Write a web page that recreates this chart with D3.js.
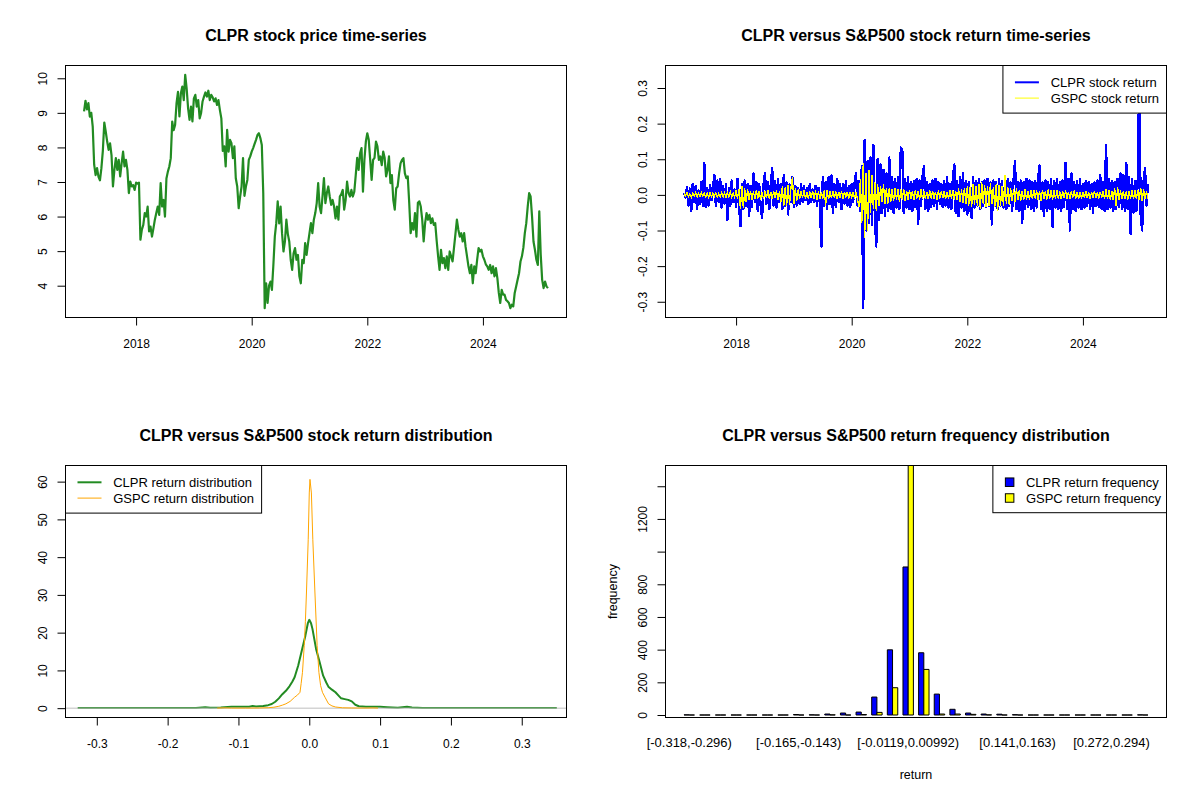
<!DOCTYPE html>
<html>
<head>
<meta charset="utf-8">
<script src="https://cdn.jsdelivr.net/npm/d3@7"></script>
<style>
  body { margin: 0; background: #fff; }
  svg { display: block; }
</style>
</head>
<body>
<div class="container"></div>
<script>
// ---- data ----

// CLPR price, one reading every 1/40 of a year starting early Feb 2017
const priceStart = 2017.1;
const priceStep = 0.025;
const clprPrice = [
  9.04, 9.35, 9.1, 9.28, 8.89, 9.0, 8.6, 7.5, 7.2, 7.4,
  7.15, 7.05, 7.4, 7.9, 8.72, 8.46, 8.17, 7.93, 8.12, 7.78,
  6.87, 7.35, 7.69, 7.35, 7.64, 7.16, 7.54, 7.88, 7.45, 7.64,
  7.35, 6.68, 7.01, 6.87, 6.91, 6.77, 6.98, 6.95, 6.98, 5.33,
  5.62, 5.76, 6.10, 6.0, 6.29, 5.57, 5.71, 5.42, 5.66, 5.91,
  6.1, 6.29, 6.05, 6.97, 6.29, 6.48, 6.0, 7.1, 7.3, 7.45,
  7.69, 8.75, 8.5, 8.65, 9.28, 9.61, 8.9, 9.57, 9.76, 9.37,
  10.1, 9.7, 9.13, 8.8, 9.18, 8.75, 9.42, 9.52, 9.18, 9.37,
  8.84, 9.0, 9.33, 9.47, 9.59, 9.47, 9.64, 9.37, 9.52, 9.45,
  9.33, 9.42, 9.23, 9.37, 9.08, 8.84, 7.9, 8.03, 7.45, 8.51,
  7.88, 8.22, 8.12, 7.69, 8.03, 7.11, 6.87, 6.24, 6.58, 6.87,
  7.69, 6.6, 6.87, 7.06, 7.64, 7.74, 7.88, 7.98, 8.1, 8.22,
  8.36, 8.41, 8.27, 8.07, 6.68, 3.35, 4.07, 3.5, 4.0, 4.12,
  3.88, 4.6, 5.42, 5.81, 6.44, 5.8, 6.29, 5.52, 4.99, 5.28,
  5.91, 5.5, 5.28, 4.75, 4.46, 4.94, 5.09, 4.75, 4.89, 4.27,
  4.07, 4.75, 4.65, 5.23, 4.89, 5.23, 5.52, 5.81, 5.52, 5.91,
  6.1, 6.39, 6.97, 6.29, 6.1, 6.58, 7.11, 6.39, 6.68, 6.87,
  6.58, 6.34, 6.48, 6.29, 5.95, 6.29, 5.91, 6.58, 6.65, 6.77,
  6.2, 6.48, 7.01, 6.68, 6.58, 6.77, 6.58, 6.72, 7.2, 7.7,
  7.35, 7.83, 7.98, 6.72, 7.64, 8.17, 8.41, 8.22, 7.64, 7.06,
  7.64, 7.7, 8.17, 8.03, 7.64, 7.74, 7.49, 7.88, 7.7, 7.16,
  7.35, 7.74, 6.97, 7.2, 6.48, 6.2, 6.82, 6.87, 7.25, 7.54,
  7.64, 7.69, 7.25, 7.11, 7.16, 6.4, 5.52, 5.81, 5.62, 6.1,
  5.42, 6.4, 6.44, 6.29, 5.91, 5.28, 5.81, 6.1, 5.91, 6.05,
  5.81, 5.95, 5.76, 5.81, 5.3, 4.85, 4.46, 5.04, 4.65, 4.8,
  4.51, 4.85, 4.46, 4.99, 4.85, 4.7, 5.1, 5.5, 5.91, 5.62,
  5.42, 5.52, 5.28, 5.52, 5.13, 4.85, 4.56, 4.36, 4.6, 4.07,
  4.56, 4.36, 4.75, 5.09, 4.99, 5.04, 4.85, 4.75, 4.62, 4.56,
  4.46, 4.6, 4.36, 4.56, 4.27, 4.51, 4.22, 3.79, 3.5, 3.88,
  3.74, 3.74, 3.59, 3.55, 3.5, 3.35, 3.45, 3.4, 3.79, 3.98,
  4.17, 4.36, 4.7, 4.85, 5.1, 5.52, 5.81, 6.29, 6.68, 6.58,
  6.0, 5.28, 5.04, 4.75, 4.6, 6.15, 4.9, 4.17, 3.93, 4.12,
  3.98, 3.93
];

// stock returns on the same dates
const clprReturn = [
  0.005, -0.008, 0.022, -0.03, 0.018, -0.045, 0.03, -0.02, 0.025, -0.04, 0.012, -0.025, 0.035, -0.03, 0.089, -0.035, 0.02, -0.03, 0.028, -0.015,
  0.02, 0.055, -0.03, 0.04, -0.02, 0.045, -0.035, 0.025, -0.025, 0.03, -0.07, 0.02, -0.03, 0.04, -0.02, 0.015, -0.035, 0.045, -0.025, -0.088,
  0.03, -0.04, 0.04, -0.03, 0.03, -0.06, 0.025, -0.035, 0.06, -0.02, 0.035, -0.045, 0.03, -0.03, -0.065, 0.03, 0.06, -0.025, 0.035, -0.04,
  0.03, 0.075, -0.03, 0.04, -0.035, 0.045, -0.02, 0.03, -0.04, 0.055, -0.03, 0.035, -0.055, 0.03, -0.02, 0.05, -0.035, 0.025, -0.03, 0.02,
  -0.025, 0.03, -0.02, 0.025, -0.015, 0.02, -0.025, 0.03, -0.02, 0.015, -0.02, 0.025, -0.03, 0.02, -0.025, -0.145, 0.05, -0.03, 0.035, -0.04,
  0.05, -0.025, 0.055, -0.05, 0.03, -0.035, 0.045, -0.02, 0.03, -0.04, 0.03, -0.025, 0.04, -0.03, 0.025, -0.035, 0.03, -0.02, 0.035, 0.06,
  -0.03, 0.04, -0.045, 0.08, -0.318, 0.153, -0.1, 0.095, -0.08, 0.105, -0.085, 0.14, -0.06, -0.145, 0.1, -0.07, 0.085, -0.05, 0.07, -0.06,
  0.06, -0.045, 0.105, -0.04, 0.05, -0.05, 0.045, -0.035, 0.05, -0.04, 0.133, 0.128, -0.05, 0.045, -0.035, 0.05, -0.04, 0.035, -0.045, 0.04,
  -0.035, 0.045, -0.082, 0.04, -0.03, 0.05, 0.08, -0.04, 0.035, -0.045, 0.03, -0.035, 0.04, -0.03, 0.045, -0.04, 0.035, -0.025, 0.03, -0.035,
  0.04, -0.03, 0.05, -0.035, 0.03, -0.04, 0.045, 0.085, -0.05, 0.04, -0.06, 0.05, -0.035, 0.06, -0.045, 0.04, -0.055, 0.035, -0.04, -0.065,
  0.05, -0.035, 0.04, -0.03, 0.045, -0.04, 0.035, -0.03, 0.04, -0.035, 0.045, -0.03, 0.035, -0.083, 0.04, -0.03, 0.035, -0.04, 0.045, -0.03,
  0.04, -0.035, 0.03, -0.04, 0.045, -0.03, 0.035, -0.045, 0.04, 0.095, -0.04, 0.035, -0.045, 0.04, -0.08, 0.035, -0.04, 0.045, -0.035, 0.04,
  -0.04, 0.035, -0.045, 0.04, -0.035, 0.045, 0.083, -0.04, 0.035, -0.06, 0.04, -0.045, 0.035, -0.04, 0.045, -0.09, 0.04, -0.035, 0.045, -0.04,
  0.035, -0.045, 0.04, -0.035, 0.09, -0.04, 0.045, -0.1, 0.06, -0.04, 0.035, -0.045, 0.04, -0.035, 0.045, -0.04, 0.03, -0.035, 0.04, -0.03,
  0.035, -0.04, 0.03, -0.05, 0.035, -0.03, 0.04, -0.035, 0.055, -0.04, 0.035, -0.045, 0.14, -0.04, 0.045, -0.035, 0.04, -0.045, 0.035, -0.04,
  0.045, -0.035, 0.06, -0.04, 0.055, -0.045, 0.09, -0.04, 0.05, -0.11, 0.045, -0.05, 0.04, -0.045, 0.05, 0.337, -0.06, -0.1, 0.04, 0.075,
  -0.03, 0.03
];

const gspcReturn = [
  0.004, -0.003, 0.006, -0.005, 0.003, -0.007, 0.005, -0.004, 0.006, -0.006, 0.004, -0.005, 0.007, -0.004, 0.005, -0.006, 0.004, -0.008, 0.006, -0.005,
  0.005, -0.004, 0.006, -0.006, 0.004, -0.005, 0.007, -0.006, 0.005, -0.007, 0.006, -0.005, 0.008, -0.006, 0.005, -0.007, 0.012, -0.01, 0.015, -0.04,
  0.025, -0.038, 0.018, -0.02, 0.016, -0.014, 0.012, -0.015, 0.01, -0.012, 0.014, -0.01, 0.011, -0.013, 0.009, -0.012, 0.01, -0.008, 0.012, -0.01,
  0.009, -0.011, 0.01, -0.009, 0.012, -0.015, 0.01, -0.02, 0.025, -0.032, 0.022, -0.03, 0.028, -0.027, 0.02, 0.05, -0.025, 0.02, -0.018, 0.015,
  -0.012, 0.01, -0.008, 0.012, -0.01, 0.008, -0.012, 0.01, -0.009, 0.011, -0.01, 0.012, -0.014, 0.01, -0.012, 0.009, -0.011, 0.013, -0.03, 0.014,
  -0.012, 0.01, -0.009, 0.011, -0.008, 0.01, -0.012, 0.009, -0.007, 0.01, -0.011, 0.008, -0.006, 0.009, -0.01, 0.008, -0.007, 0.009, -0.01, 0.008,
  -0.012, -0.035, 0.045, -0.08, 0.09, -0.12, 0.06, -0.1, 0.07, -0.05, 0.055, -0.04, 0.035, -0.045, 0.03, -0.03, 0.025, -0.02, 0.03, -0.025,
  0.02, -0.025, 0.018, -0.02, 0.015, -0.018, 0.02, -0.015, 0.017, -0.02, 0.015, -0.014, 0.016, -0.018, 0.012, -0.015, 0.014, -0.012, 0.01, -0.014,
  0.012, -0.01, 0.011, -0.013, 0.015, -0.012, 0.01, -0.011, 0.009, -0.012, 0.013, -0.01, 0.011, -0.012, 0.009, -0.014, 0.012, -0.01, 0.011, -0.009,
  0.01, -0.012, 0.009, -0.011, 0.013, -0.01, 0.012, -0.014, 0.011, -0.015, 0.018, -0.02, 0.015, -0.022, 0.02, -0.025, 0.025, -0.03, 0.022, -0.035,
  0.03, -0.028, 0.025, -0.032, 0.03, -0.04, 0.035, -0.025, 0.028, -0.033, 0.025, -0.03, 0.032, -0.025, 0.022, -0.035, 0.03, -0.045, 0.028, -0.03,
  0.025, -0.032, 0.055, -0.025, 0.022, -0.028, 0.02, -0.018, 0.015, -0.02, 0.018, -0.015, 0.014, -0.016, 0.012, -0.015, 0.016, -0.013, 0.012, -0.014,
  0.013, -0.012, 0.014, -0.01, 0.012, -0.013, 0.011, -0.016, 0.014, -0.012, 0.01, -0.013, 0.015, -0.011, 0.012, -0.014, 0.013, -0.01, 0.012, -0.011,
  0.01, -0.012, 0.011, -0.009, 0.012, -0.01, 0.009, -0.011, 0.01, -0.008, 0.012, -0.01, 0.009, -0.011, 0.008, -0.01, 0.009, -0.008, 0.01, -0.009,
  0.008, -0.01, 0.009, -0.008, 0.011, -0.009, 0.008, -0.01, 0.009, -0.007, 0.01, -0.012, 0.015, -0.011, 0.013, -0.014, 0.012, -0.015, 0.02, -0.03,
  0.022, -0.015, 0.012, -0.01, 0.011, -0.012, 0.01, -0.013, 0.011, -0.01, 0.012, -0.011, 0.014, -0.012, 0.013, -0.015, 0.02, -0.018, 0.015, -0.012,
  0.01, -0.012
];

// kernel density estimates of the returns
const clprDensX = [-0.327, -0.25, -0.2, -0.16, -0.147, -0.14, -0.125, -0.11, -0.095, -0.085, -0.08, -0.075, -0.065, -0.058, -0.053, -0.048, -0.043, -0.038, -0.033, -0.028, -0.024, -0.0207, -0.0156, -0.0106, -0.0055, -0.002, 0, 0.0025, 0.0045, 0.0096, 0.0146, 0.0196, 0.024, 0.027, 0.032, 0.037, 0.042, 0.045, 0.05, 0.055, 0.06, 0.065, 0.07, 0.08, 0.09, 0.1, 0.11, 0.125, 0.138, 0.145, 0.16, 0.25, 0.33, 0.3495];
const clprDensY = [0.02, 0.02, 0.03, 0.05, 0.25, 0.08, 0.15, 0.35, 0.4, 0.4, 0.55, 0.45, 0.6, 0.8, 1.1, 1.7, 2.6, 3.7, 4.6, 5.8, 7.0, 8.2, 11.3, 15.2, 19.2, 22.5, 23.4, 22.5, 21, 15.7, 12.2, 8.6, 6.8, 5.7, 4.9, 4.2, 3.2, 2.6, 2.4, 2.2, 1.8, 0.9, 0.5, 0.4, 0.35, 0.35, 0.25, 0.1, 0.35, 0.15, 0.03, 0.02, 0.06, 0.02];
const gspcDensX = [-0.13, -0.12, -0.11, -0.09, -0.07, -0.058, -0.05, -0.043, -0.038, -0.033, -0.027, -0.0207, -0.0165, -0.0131, -0.0115, -0.0096, -0.0071, -0.0055, -0.004, -0.0015, 0, 0.001, 0.003, 0.005, 0.008, 0.0111, 0.0136, 0.016, 0.0186, 0.0222, 0.0272, 0.032, 0.0373, 0.047, 0.06, 0.08, 0.09, 0.097];
const gspcDensY = [0.02, 0.08, 0.02, 0.02, 0.05, 0.12, 0.25, 0.5, 0.8, 1.15, 1.8, 2.9, 3.5, 4.2, 6.5, 9.5, 16.6, 23, 30.5, 44.6, 57, 60.6, 57, 44.6, 30.5, 16.6, 9.5, 6, 4.2, 2.9, 1.15, 0.6, 0.3, 0.1, 0.05, 0.03, 0.06, 0.02];
const densityYMax = 61.8;

// frequency table, 30 equal bins of the CLPR return range
const binBreaks = ["-0.318", "-0.296", "-0.274", "-0.252", "-0.231", "-0.209", "-0.187", "-0.165", "-0.143", "-0.121",
  "-0.0994", "-0.0775", "-0.0557", "-0.0338", "-0.0119", "0.00992", "0.0318", "0.0536", "0.0755", "0.0974",
  "0.119", "0.141", "0.163", "0.185", "0.207", "0.229", "0.25", "0.272", "0.294", "0.316", "0.338"];
const clprFreq = [1, 0, 0, 0, 0, 0, 0, 3, 1, 6, 12, 18, 110, 399, 906, 381, 128, 35, 12, 6, 5, 2, 0, 0, 0, 0, 0, 0, 0, 1];
const gspcFreq = [0, 0, 0, 0, 0, 0, 0, 0, 0, 1, 0, 3, 16, 167, 1527, 279, 6, 6, 4, 1, 0, 0, 0, 0, 0, 0, 0, 0, 0, 0];

// axis ticks
const yearTicks = [2018, 2020, 2022, 2024];
const priceTicks = [4, 5, 6, 7, 8, 9, 10];
const returnTicks = [-0.3, -0.2, -0.1, 0, 0.1, 0.2, 0.3];
const returnTickLabels = ["-0.3", "-0.2", "-0.1", "0.0", "0.1", "0.2", "0.3"];
const densityTicks = [0, 10, 20, 30, 40, 50, 60];
const freqTicks = [0, 200, 400, 600, 800, 1000, 1200, 1400];
const freqTickLabels = ["0", "200", "400", "600", "800", "", "1200", ""];

// ---- layout ----
const FONT = '"Liberation Sans", Arial, Helvetica, sans-serif';
const panelW = 600, panelH = 400;
const margin = {top: 65.5, right: 33.5, bottom: 82.5, left: 65.5};
const innerW = panelW - margin.left - margin.right;
const innerH = panelH - margin.top - margin.bottom;
const x0 = margin.left, x1 = margin.left + innerW;
const y0 = margin.top, y1 = margin.top + innerH;

const svg = d3.select(".container")
  .append("svg")
  .attr("width", 1200)
  .attr("height", 800)
  .attr("font-family", FONT);

svg.append("rect").attr("width", 1200).attr("height", 800).attr("fill", "#fff");

// R style axis range: data range padded by 4% on each side
function rLimits(lo, hi) {
  const d = (hi - lo) * 0.04;
  return [lo - d, hi + d];
}

function makePanel(col, row, title) {
  const g = svg.append("g").attr("transform", `translate(${col * panelW},${row * panelH})`);
  g.append("text")
    .attr("x", x0 + innerW / 2)
    .attr("y", 41)
    .attr("text-anchor", "middle")
    .attr("font-size", 16)
    .attr("font-weight", "bold")
    .text(title);
  return g;
}

function addBox(g) {
  g.append("rect")
    .attr("x", x0).attr("y", y0)
    .attr("width", innerW).attr("height", innerH)
    .attr("fill", "none").attr("stroke", "#000").attr("stroke-width", 1);
}

function bottomAxis(g, scale, ticks, labels) {
  const axis = d3.axisBottom(scale)
    .tickValues(ticks)
    .tickFormat((d, i) => labels[i])
    .tickSize(8)
    .tickSizeOuter(0);
  const a = g.append("g").attr("transform", `translate(0,${y1})`).call(axis);
  a.attr("font-family", FONT).attr("font-size", 12);
  a.select(".domain").remove();
  a.selectAll(".tick line").attr("stroke", "#000");
  a.selectAll(".tick text").attr("y", 30).attr("dy", null).attr("fill", "#000");
}

function leftAxis(g, scale, ticks, labels) {
  const axis = d3.axisLeft(scale)
    .tickValues(ticks)
    .tickFormat((d, i) => labels[i])
    .tickSize(8)
    .tickSizeOuter(0);
  const a = g.append("g").attr("transform", `translate(${x0},0)`).call(axis);
  a.attr("font-family", FONT).attr("font-size", 12);
  a.select(".domain").remove();
  a.selectAll(".tick line").attr("stroke", "#000");
  // tick labels run parallel to the axis
  a.selectAll(".tick text")
    .attr("transform", "rotate(-90)")
    .attr("x", 0).attr("y", -18.8).attr("dy", null)
    .attr("text-anchor", "middle")
    .attr("fill", "#000");
}

// legend with line samples, anchored to a top corner of the plot box
function lineLegend(g, items, corner) {
  const lg = g.append("g");
  const box = lg.append("rect").attr("fill", "#fff").attr("stroke", "#000");
  const texts = items.map((it, i) => lg.append("text")
    .attr("font-size", 13)
    .attr("y", y0 + 16.8 + i * 15.8 + 4.6)
    .text(it.label));
  const maxW = d3.max(texts, t => t.node().getComputedTextLength());
  const w = 47.7 + maxW + 7.5;
  const left = corner === "right" ? x1 - w : x0;
  box.attr("x", left).attr("y", y0).attr("width", w).attr("height", 47.6);
  texts.forEach(t => t.attr("x", left + 47.7));
  items.forEach((it, i) => {
    lg.append("line")
      .attr("x1", left + 12).attr("x2", left + 36)
      .attr("y1", y0 + 16.8 + i * 15.8).attr("y2", y0 + 16.8 + i * 15.8)
      .attr("stroke", it.color).attr("stroke-width", it.width);
  });
}

// legend with filled squares
function fillLegend(g, items) {
  const lg = g.append("g");
  const box = lg.append("rect").attr("fill", "#fff").attr("stroke", "#000");
  const texts = items.map((it, i) => lg.append("text")
    .attr("font-size", 13)
    .attr("y", y0 + 16.7 + i * 15.8 + 4.6)
    .text(it.label));
  const maxW = d3.max(texts, t => t.node().getComputedTextLength());
  const w = 33 + maxW + 5.5;
  const left = x1 - w;
  box.attr("x", left).attr("y", y0).attr("width", w).attr("height", 47.2);
  texts.forEach(t => t.attr("x", left + 33));
  items.forEach((it, i) => {
    lg.append("rect")
      .attr("x", left + 12.5).attr("y", y0 + 16.7 + i * 15.8 - 4.25)
      .attr("width", 8.5).attr("height", 8.5)
      .attr("fill", it.color).attr("stroke", "#000");
  });
}

const dates = clprPrice.map((d, i) => priceStart + i * priceStep);
const xTime = d3.scaleLinear()
  .domain(rLimits(d3.min(dates), d3.max(dates)))
  .range([x0, x1]);

// ---- panel 1: price ----
{
  const g = makePanel(0, 0, "CLPR stock price time-series");
  const y = d3.scaleLinear().domain(rLimits(d3.min(clprPrice), d3.max(clprPrice))).range([y1, y0]);
  g.append("path")
    .datum(clprPrice)
    .attr("fill", "none")
    .attr("stroke", "forestgreen")
    .attr("stroke-width", 2.2)
    .attr("stroke-linejoin", "round")
    .attr("d", d3.line().x((d, i) => xTime(dates[i])).y(d => y(d)));
  addBox(g);
  bottomAxis(g, xTime, yearTicks, yearTicks.map(String));
  leftAxis(g, y, priceTicks, priceTicks.map(String));
}

// ---- panel 2: returns ----
{
  const g = makePanel(1, 0, "CLPR versus S&P500 stock return time-series");
  const y = d3.scaleLinear().domain(rLimits(d3.min(clprReturn), d3.max(clprReturn))).range([y1, y0]);
  const line = d3.line().x((d, i) => xTime(dates[i])).y(d => y(d));
  g.append("path").datum(clprReturn)
    .attr("fill", "none").attr("stroke", "blue").attr("stroke-width", 2.4)
    .attr("stroke-linejoin", "round").attr("shape-rendering", "crispEdges")
    .attr("d", line);
  g.append("path").datum(gspcReturn)
    .attr("fill", "none").attr("stroke", "yellow").attr("stroke-width", 1.3)
    .attr("shape-rendering", "crispEdges")
    .attr("d", line);
  addBox(g);
  bottomAxis(g, xTime, yearTicks, yearTicks.map(String));
  leftAxis(g, y, returnTicks, returnTickLabels);
  lineLegend(g, [
    {label: "CLPR stock return", color: "blue", width: 2},
    {label: "GSPC stock return", color: "yellow", width: 1}
  ], "right");
}

// ---- panel 3: densities ----
{
  const g = makePanel(0, 1, "CLPR versus S&P500 stock return distribution");
  const x = d3.scaleLinear().domain(rLimits(d3.min(clprReturn), d3.max(clprReturn))).range([x0, x1]);
  const y = d3.scaleLinear().domain(rLimits(0, densityYMax)).range([y1, y0]);
  g.append("path").datum(clprDensX)
    .attr("fill", "none").attr("stroke", "forestgreen").attr("stroke-width", 2)
    .attr("stroke-linejoin", "round")
    .attr("d", d3.line().x(d => x(d)).y((d, i) => y(clprDensY[i])));
  g.append("line")
    .attr("x1", x0).attr("x2", x1).attr("y1", y(0)).attr("y2", y(0))
    .attr("stroke", "#bebebe").attr("stroke-width", 1);
  g.append("path").datum(gspcDensX)
    .attr("fill", "none").attr("stroke", "orange").attr("stroke-width", 1)
    .attr("d", d3.line().x(d => x(d)).y((d, i) => y(gspcDensY[i])));
  addBox(g);
  bottomAxis(g, x, returnTicks, returnTickLabels);
  leftAxis(g, y, densityTicks, densityTicks.map(String));
  lineLegend(g, [
    {label: "CLPR return distribution", color: "forestgreen", width: 2},
    {label: "GSPC return distribution", color: "orange", width: 1}
  ], "left");
}

// ---- panel 4: side by side frequency bars ----
{
  const g = makePanel(1, 1, "CLPR versus S&P500 return frequency distribution");
  const nBins = clprFreq.length;
  // bar units as in R barplot(beside = TRUE): one gap unit then two bars per bin
  const x = d3.scaleLinear().domain(rLimits(1, 3 * nBins)).range([x0, x1]);
  const fMax = d3.max(clprFreq.concat(gspcFreq));
  const y = d3.scaleLinear().domain([-0.01 * fMax, fMax]).range([y1, y0]);

  function barPath(u, v) {
    const p = d3.path();
    p.moveTo(x(u), y(0));
    p.lineTo(x(u + 1), y(0));
    p.lineTo(x(u + 1), y(v));
    p.lineTo(x(u), y(v));
    p.closePath();
    return p.toString();
  }
  g.append("g").selectAll("path")
    .data(clprFreq)
    .join("path")
    .attr("d", (d, k) => barPath(3 * k + 1, d))
    .attr("fill", "blue").attr("stroke", "#000").attr("stroke-width", 1);
  g.append("g").selectAll("path")
    .data(gspcFreq)
    .join("path")
    .attr("d", (d, k) => barPath(3 * k + 2, d))
    .attr("fill", "yellow").attr("stroke", "#000").attr("stroke-width", 1);

  addBox(g);
  leftAxis(g, y, freqTicks, freqTickLabels);

  // bin names, skipping any that would collide with the previous one drawn
  const names = g.append("g").attr("font-size", 13).attr("text-anchor", "middle");
  const probe = names.append("text").text("m");
  const gap = probe.node().getComputedTextLength();
  probe.remove();
  let lastRight = -Infinity;
  d3.range(nBins).forEach(k => {
    const label = "[" + binBreaks[k] + "," + binBreaks[k + 1] + (k === nBins - 1 ? "]" : ")");
    const cx = x(3 * k + 2);
    const t = names.append("text").attr("x", cx).attr("y", y1 + 29.5).text(label);
    const w = t.node().getComputedTextLength();
    if (cx - w / 2 < lastRight + gap) t.remove();
    else lastRight = cx + w / 2;
  });

  g.append("text")
    .attr("x", x0 + innerW / 2).attr("y", 379)
    .attr("text-anchor", "middle").attr("font-size", 12.5)
    .text("return");
  g.append("text")
    .attr("transform", `translate(16.6,${y0 + innerH / 2}) rotate(-90)`)
    .attr("text-anchor", "middle").attr("font-size", 12.5)
    .text("frequency");

  fillLegend(g, [
    {label: "CLPR return frequency", color: "blue"},
    {label: "GSPC return frequency", color: "yellow"}
  ]);
}
</script>
</body>
</html>
